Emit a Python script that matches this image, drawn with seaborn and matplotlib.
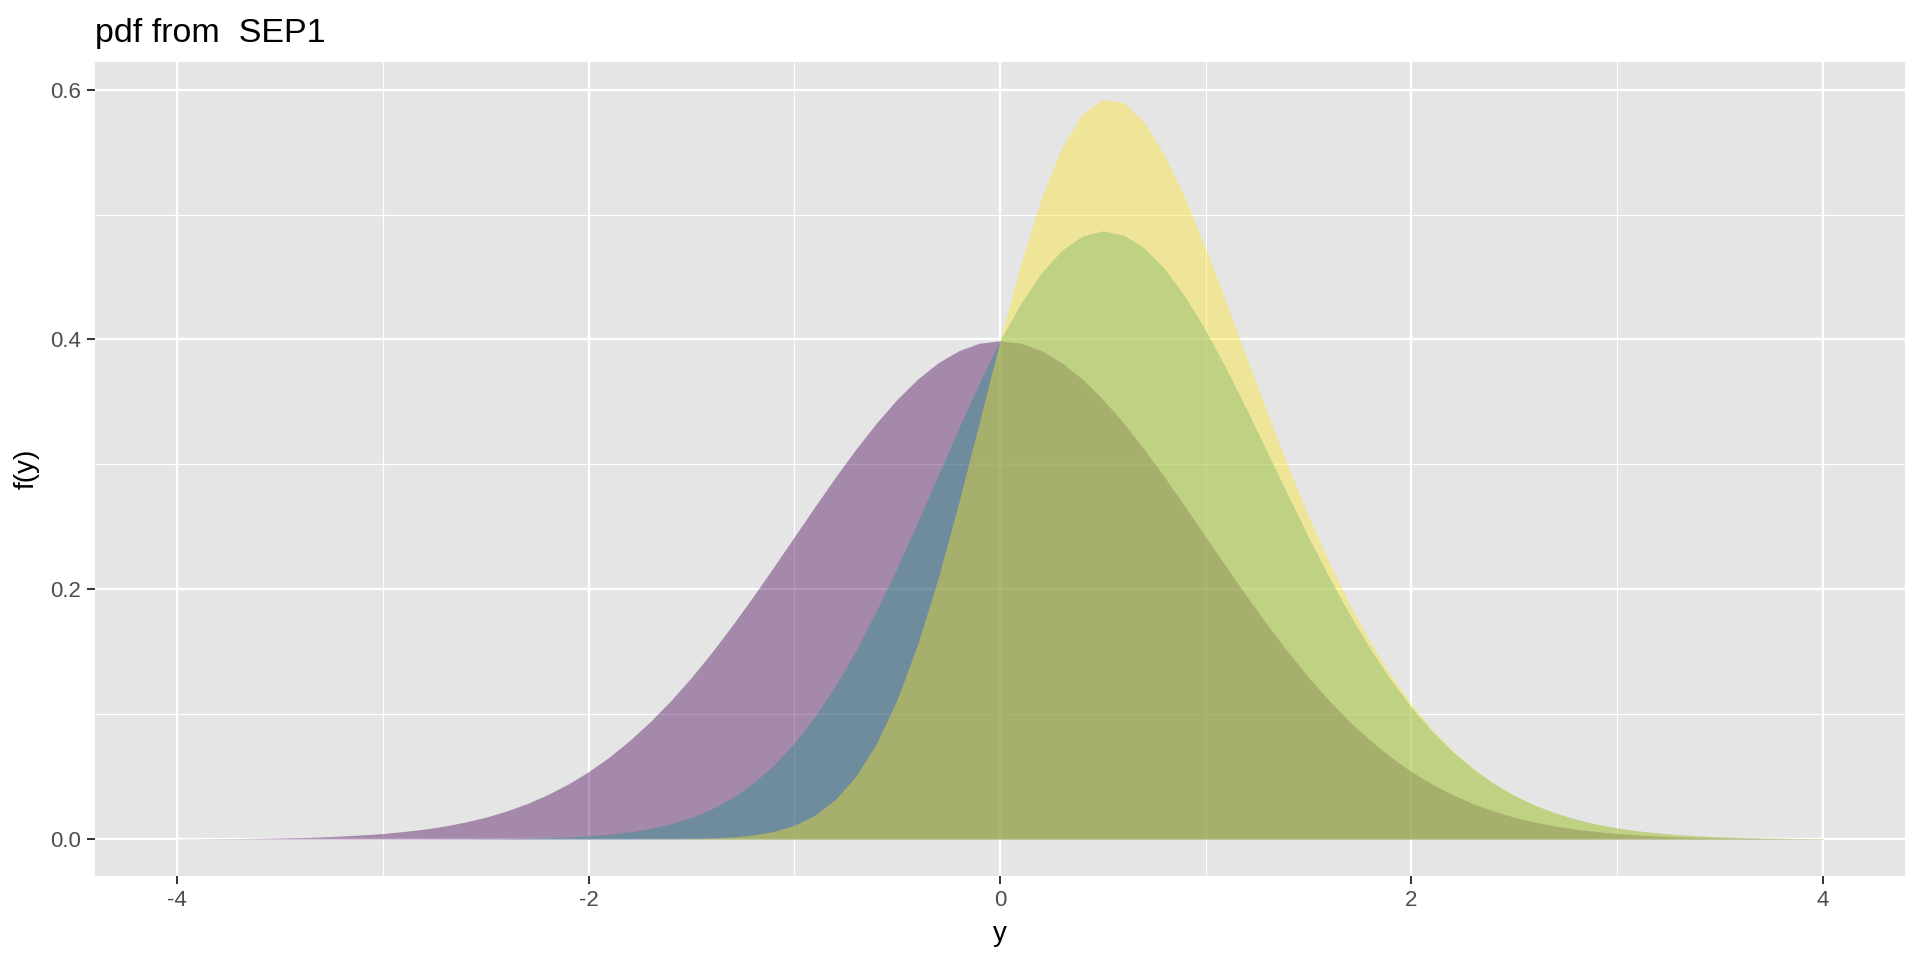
import numpy as np
import pandas as pd
import matplotlib
matplotlib.use("Agg")
import matplotlib.pyplot as plt
from matplotlib.ticker import MultipleLocator, FormatStrFormatter
import seaborn as sns

# grade de y (-4 a 4, passo 0.1)
y_grid = np.round(np.linspace(-4, 4, 81), 1)

# f(y), tres curvas
f_purple = [0.0001, 0.0002, 0.0003, 0.0004, 0.0006, 0.0009, 0.0012, 0.0017, 0.0024, 0.0033,
            0.0044, 0.0060, 0.0079, 0.0104, 0.0136, 0.0175, 0.0224, 0.0283, 0.0355, 0.0440,
            0.0540, 0.0656, 0.0790, 0.0941, 0.1109, 0.1295, 0.1497, 0.1714, 0.1942, 0.2179,
            0.2420, 0.2661, 0.2897, 0.3123, 0.3332, 0.3521, 0.3683, 0.3814, 0.3910, 0.3970,
            0.3989,
            0.3970, 0.3910, 0.3814, 0.3683, 0.3521, 0.3332, 0.3123, 0.2897, 0.2661, 0.2420,
            0.2179, 0.1942, 0.1714, 0.1497, 0.1295, 0.1109, 0.0941, 0.0790, 0.0656, 0.0540,
            0.0440, 0.0355, 0.0283, 0.0224, 0.0175, 0.0136, 0.0104, 0.0079, 0.0060, 0.0044,
            0.0033, 0.0024, 0.0017, 0.0012, 0.0009, 0.0006, 0.0004, 0.0003, 0.0002, 0.0001]

f_teal = [0, 0, 0, 0, 0, 0, 0, 0, 0, 0,
          0.00001, 0.00002, 0.00004, 0.00007, 0.00013, 0.00022, 0.00037, 0.00061, 0.00099, 0.00157,
          0.0025, 0.0038, 0.0057, 0.0084, 0.0122, 0.0173, 0.0242, 0.0332, 0.0447, 0.0591,
          0.0768, 0.0980, 0.1228, 0.1511, 0.1828, 0.2173, 0.2538, 0.2915, 0.3291, 0.3653,
          0.3989,
          0.4286, 0.4530, 0.4713, 0.4827, 0.4869, 0.4837, 0.4734, 0.4566, 0.4342, 0.4072,
          0.3766, 0.3437, 0.3096, 0.2753, 0.2417, 0.2097, 0.1797, 0.1522, 0.1275, 0.1055,
          0.0864, 0.0700, 0.0561, 0.0444, 0.0348, 0.0270, 0.0208, 0.0158, 0.0119, 0.0088,
          0.0065, 0.0048, 0.0034, 0.0025, 0.0017, 0.0012, 0.0008, 0.0006, 0.0004, 0.0003]

f_yellow = [0, 0, 0, 0, 0, 0, 0, 0, 0, 0,
            0, 0, 0, 0, 0, 0, 0, 0, 0, 0,
            0, 0.00001, 0.00003, 0.00006, 0.00015, 0.00035, 0.00077, 0.0016, 0.0032, 0.0061,
            0.0110, 0.0191, 0.0318, 0.0504, 0.0767, 0.1117, 0.1560, 0.2092, 0.2695, 0.3340,
            0.3989,
            0.4599, 0.5126, 0.5536, 0.5805, 0.5924, 0.5898, 0.5741, 0.5476, 0.5131, 0.4728,
            0.4296, 0.3852, 0.3411, 0.2987, 0.2587, 0.2217, 0.1880, 0.1579, 0.1312, 0.1080,
            0.0880, 0.0709, 0.0567, 0.0448, 0.0351, 0.0272, 0.0208, 0.0158, 0.0119, 0.0089,
            0.0065, 0.0048, 0.0034, 0.0025, 0.0017, 0.0012, 0.0008, 0.0006, 0.0004, 0.0003]

cores = ["#440154", "#21908C", "#FDE725"]  # viridis 3

df = pd.DataFrame({"y": y_grid, "purple": f_purple, "teal": f_teal, "yellow": f_yellow})

sns.set_theme(style="darkgrid", rc={
    "axes.facecolor": "#E5E5E5",
    "grid.color": "white",
    "axes.edgecolor": "none",
    "xtick.bottom": True, "ytick.left": True,
    "xtick.color": "#333333", "ytick.color": "#333333",
    "xtick.labelcolor": "#4D4D4D", "ytick.labelcolor": "#4D4D4D",
    "text.color": "black", "axes.labelcolor": "black",
})
plt.rcParams["font.family"] = ["Liberation Sans", "DejaVu Sans"]

fig = plt.figure(figsize=(19.2, 9.6), dpi=100)
ax = fig.add_axes([95 / 1920, 1 - 876 / 960, (1905 - 95) / 1920, (876 - 62) / 960])

for col, cor in zip(["purple", "teal", "yellow"], cores):
    ax.fill_between(df["y"], 0, df[col], color=cor, alpha=0.4, linewidth=0, zorder=2)

ax.set_xlim(-4.4, 4.4)
ax.set_ylim(-0.0296, 0.6221)
ax.xaxis.set_major_locator(MultipleLocator(2))
ax.xaxis.set_minor_locator(MultipleLocator(1))
ax.yaxis.set_major_locator(MultipleLocator(0.2))
ax.yaxis.set_minor_locator(MultipleLocator(0.1))
ax.xaxis.set_major_formatter(FormatStrFormatter("%.0f"))
ax.yaxis.set_major_formatter(FormatStrFormatter("%.1f"))
ax.grid(which="major", color="white", linewidth=1.7, zorder=1)
ax.grid(which="minor", color="white", linewidth=0.8, zorder=1)
ax.set_axisbelow(True)
ax.tick_params(which="major", length=5.5, width=1.4, pad=4.5, labelsize=16)
ax.tick_params(which="minor", length=0)

ax.set_xlabel("y", fontsize=20, labelpad=7, color="black")
ax.set_ylabel("f(y)", fontsize=20, labelpad=8, color="black")

fig.text(95 / 1920, 1 - 42 / 960, "pdf from  SEP1", fontsize=24.5, ha="left",
         va="baseline", color="black")

fig.savefig("out.png", dpi=100)
